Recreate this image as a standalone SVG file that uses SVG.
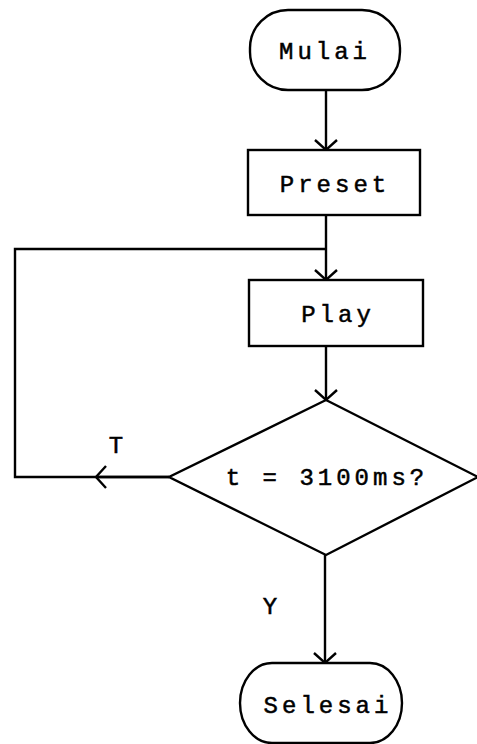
<svg xmlns="http://www.w3.org/2000/svg" width="477" height="744" viewBox="0 0 477 744">
<defs>
<style>
.shape{fill:#fff;stroke:#000;stroke-width:2.4}
.conn{fill:none;stroke:#000;stroke-width:2.4}
text{font-family:"Liberation Mono","DejaVu Sans Mono",monospace;font-size:24px;fill:#000;stroke:#000;stroke-width:0.5;text-anchor:middle;letter-spacing:4px}
</style>
<marker id="arr" markerWidth="26" markerHeight="26" refX="11" refY="12" orient="auto" markerUnits="userSpaceOnUse">
<polyline points="1,1 11,12 1,23" fill="none" stroke="#000" stroke-width="2.4"/>
</marker>
</defs>
<g id="connectors">
<line class="conn" x1="326" y1="90" x2="326" y2="150" marker-end="url(#arr)"/>
<line class="conn" x1="326" y1="215" x2="326" y2="280" marker-end="url(#arr)"/>
<line class="conn" x1="326" y1="346" x2="326" y2="400" marker-end="url(#arr)"/>
<polyline class="conn" points="169,477 15,477 15,249 326,249"/>
<line class="conn" x1="169" y1="477" x2="96" y2="477" marker-end="url(#arr)"/>
<line class="conn" x1="325" y1="555" x2="325" y2="663" marker-end="url(#arr)"/>
<text x="116" y="453" style="letter-spacing:0">T</text>
<text x="270" y="614" style="letter-spacing:0">Y</text>
</g>
<g id="mulai">
<rect class="shape" x="250" y="10" width="150" height="80" rx="38" ry="38"/>
<text x="325" y="59">Mulai</text>
</g>
<g id="preset">
<rect class="shape" x="248" y="150" width="172" height="65"/>
<text x="335" y="192">Preset</text>
</g>
<g id="play">
<rect class="shape" x="249" y="280" width="174" height="66"/>
<text x="338" y="322">Play</text>
</g>
<g id="decision">
<polygon class="shape" points="326,400 478,477 326,555 169,477"/>
<text x="327" y="485">t = 3100ms?</text>
</g>
<g id="selesai">
<rect class="shape" x="240" y="663" width="162" height="80" rx="32" ry="40"/>
<text x="328" y="713">Selesai</text>
</g>
</svg>
